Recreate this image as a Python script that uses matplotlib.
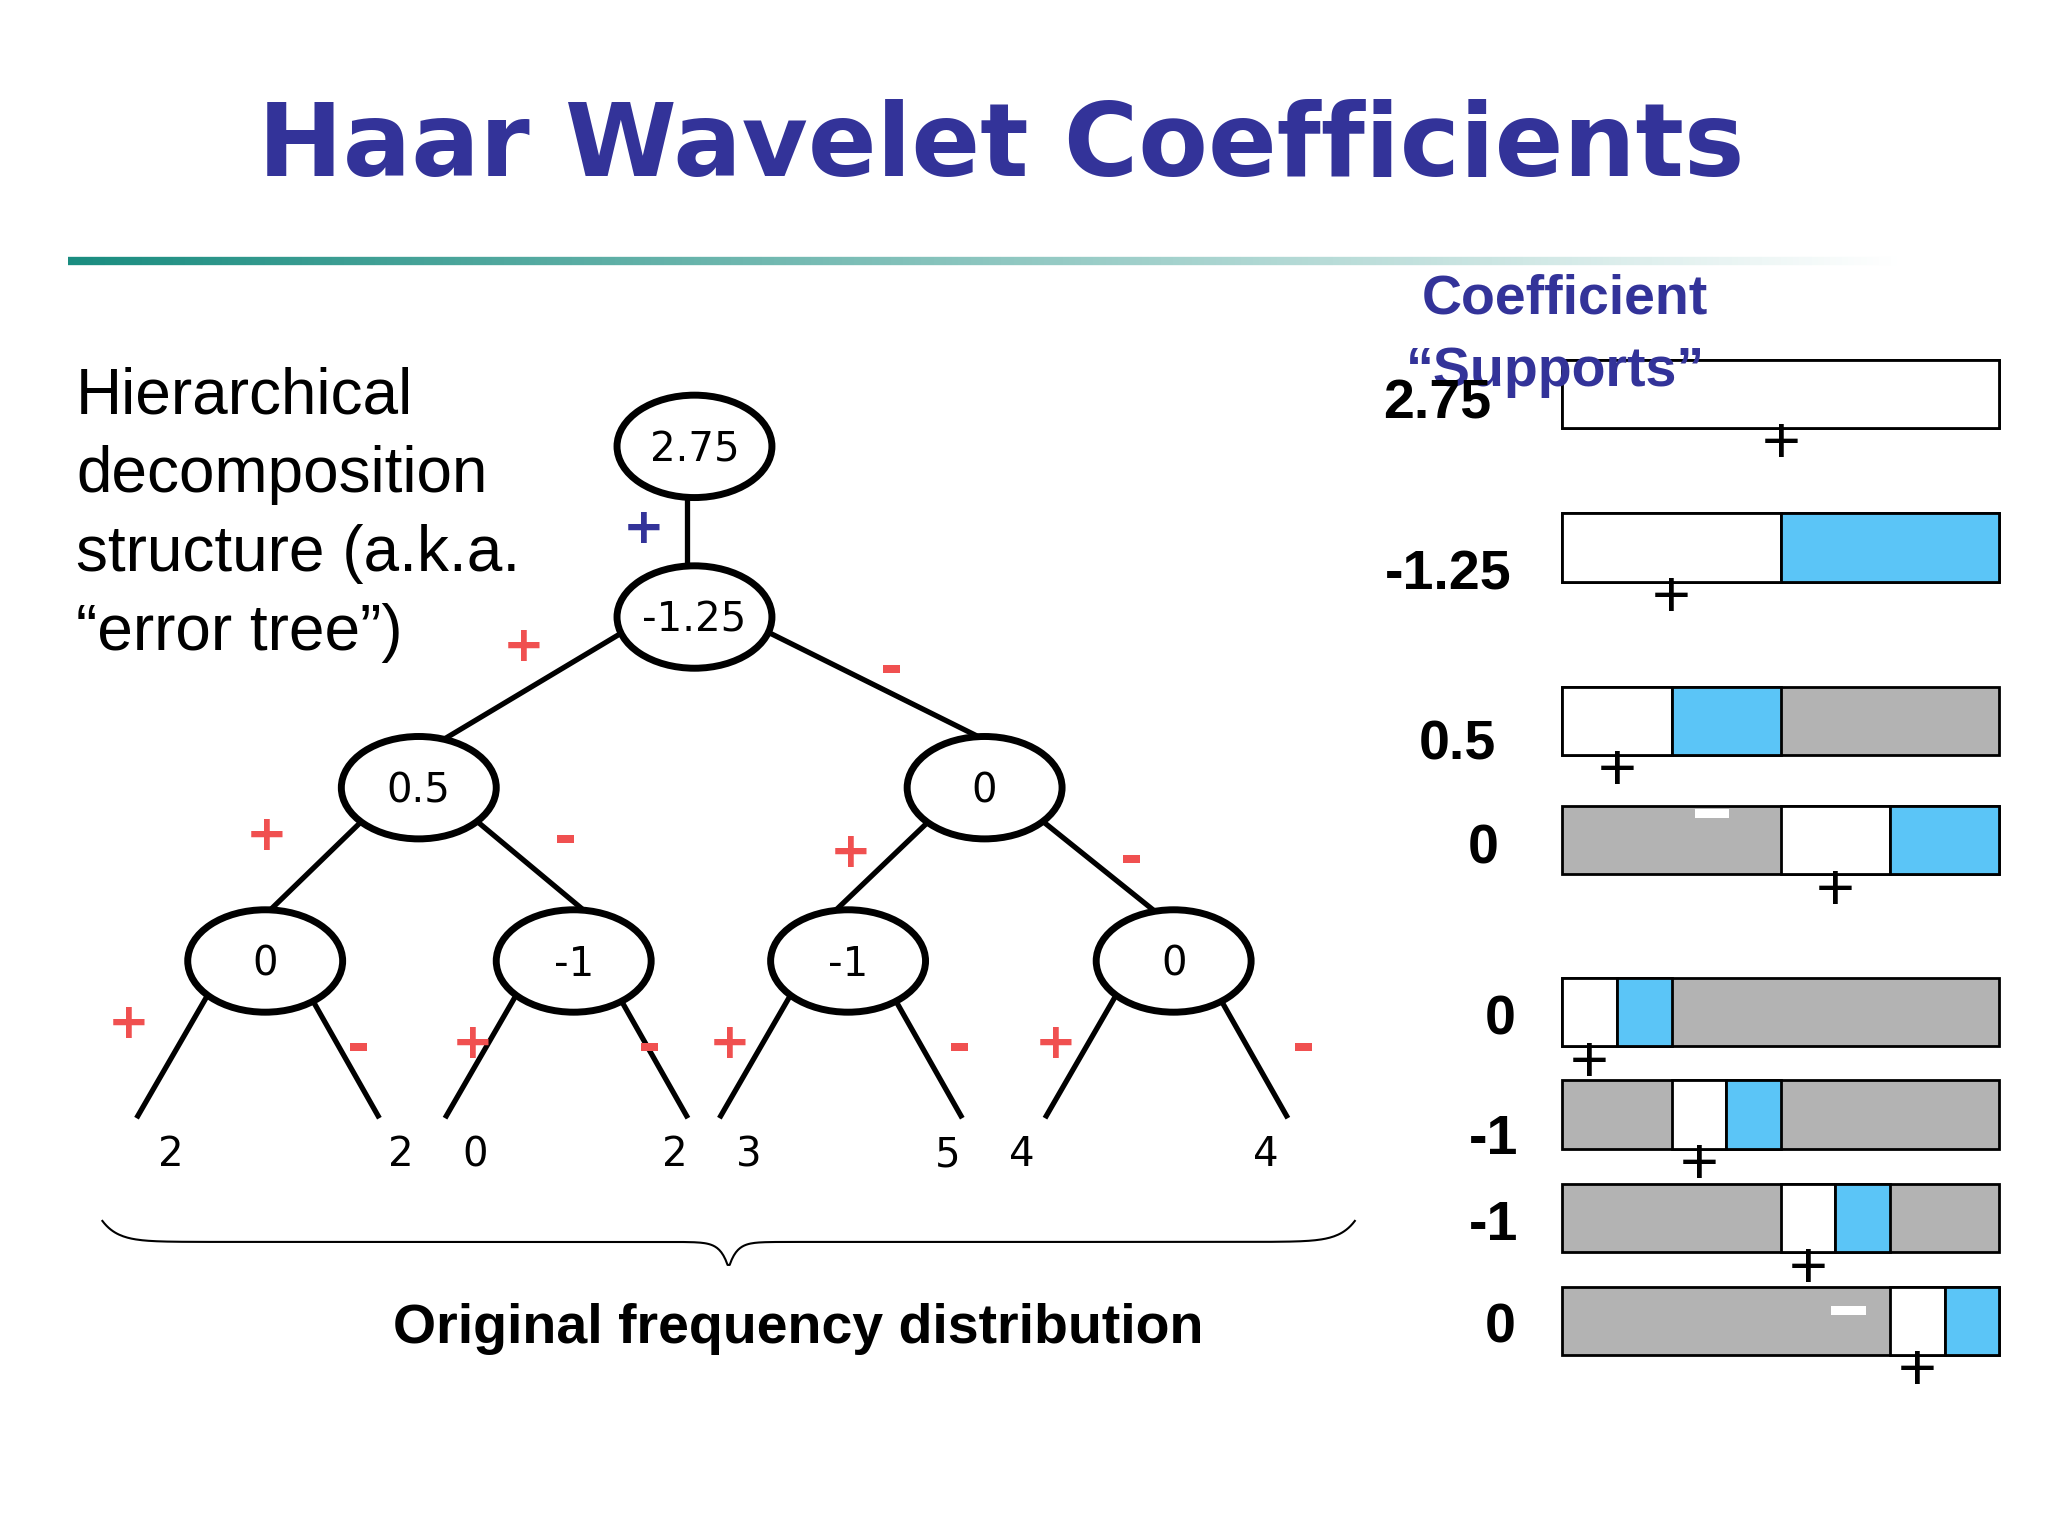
import matplotlib.pyplot as plt
import numpy as np
from matplotlib.patches import Ellipse, Rectangle
from matplotlib.collections import LineCollection

# tree data
node_vals = ['2.75', '-1.25', '0.5', '0', '0', '-1', '-1', '0']
node_x = [529, 529, 319, 750, 202, 437, 646, 894]
node_y = [340, 470, 600, 600, 732, 732, 732, 732]
leaf_vals = ['2', '2', '0', '2', '3', '5', '4', '4']
leaf_x = [130, 305, 362, 514, 570, 722, 778, 964]

# support bars: (start cell, cells of +, cells of -) out of 8
coef_labels = ['2.75', '-1.25', '0.5', '0', '0', '-1', '-1', '0']
coef_lx = [1095, 1103, 1110, 1130, 1143, 1138, 1138, 1143]
coef_ly = [308, 438, 568, 647, 777, 868, 934, 1012]
bar_top = [274, 391, 523, 614, 745, 823, 902, 980]
supports = [(0, 8, 0), (0, 4, 4), (0, 2, 2), (4, 2, 2),
            (0, 1, 1), (2, 1, 1), (4, 1, 1), (6, 1, 1)]

fig = plt.figure(figsize=(20.48, 15.36), dpi=100)
ax = fig.add_axes([0, 0, 1, 1])
ax.set_xlim(0, 1560)
ax.set_ylim(1170, 0)
ax.axis('off')

red = '#f05050'
navy = '#333399'
arial = 'Liberation Sans'

ax.text(763, 113, 'Haar Wavelet Coefficients', ha='center', va='center',
        fontsize=73, fontweight='heavy', color=navy)

# gradient rule under title
xs = np.linspace(52, 1450, 300)
segs = [[(xs[i], 199), (xs[i + 1], 199)] for i in range(len(xs) - 1)]
t = np.linspace(0, 1, len(segs))
cols = [(0.1 + 0.9 * v, 0.55 + 0.45 * v, 0.5 + 0.5 * v) for v in t]
ax.add_collection(LineCollection(segs, colors=cols, linewidths=6))

ax.text(58, 392, 'Hierarchical\ndecomposition\nstructure (a.k.a.\n\u201cerror tree\u201d)',
        ha='left', va='center', fontsize=46, linespacing=1.4, family=arial)

# edges
ew, eh = 118, 78
lw = 3.8
ax.plot([523, 523], [379, 431], color='k', lw=lw)
edges = [(1, 2), (1, 3), (2, 4), (2, 5), (3, 6), (3, 7)]
pts = {(1, 2): ((472, 483), (340, 562)), (1, 3): ((588, 483), (745, 561)),
       (2, 4): ((274, 627), (207, 692)), (2, 5): ((365, 627), (443, 692)),
       (3, 6): ((706, 627), (638, 692)), (3, 7): ((796, 627), (877, 692))}
for e in edges:
    (x0, y0), (x1, y1) = pts[e]
    ax.plot([x0, x1], [y0, y1], color='k', lw=lw)
for i in range(4, 8):
    x = node_x[i]
    ax.plot([x - 45, x - 97], [760, 850], color='k', lw=lw)
    ax.plot([x + 35, x + 86], [760, 850], color='k', lw=lw)

for v, x, y in zip(node_vals, node_x, node_y):
    ax.add_patch(Ellipse((x, y), ew, eh, fc='white', ec='k', lw=5, zorder=3))
    ax.text(x, y + 3, v, ha='center', va='center', fontsize=29, zorder=4)

for v, x in zip(leaf_vals, leaf_x):
    ax.text(x, 880, v, ha='center', va='center', fontsize=29)

# signs
ax.text(490, 403, '+', ha='center', va='center', fontsize=36, color=navy, fontweight='bold')
plus = [(399, 493), (203, 637), (648, 650), (98, 780), (360, 795), (556, 795), (804, 795)]
minus = [(679, 510), (431, 640), (862, 655), (273, 798), (495, 798), (731, 798), (993, 798)]
for x, y in plus:
    ax.text(x, y, '+', ha='center', va='center', fontsize=36, color=red, fontweight='bold')
for x, y in minus:
    ax.text(x, y, '-', ha='center', va='center', fontsize=40, color=red, fontweight='bold')

# brace
bx = np.linspace(78, 1032, 600)
mid = 555
by = []
for x in bx:
    d = min(x - 78, 1032 - x)
    y = 930 + 16 * (1 - np.exp(-d / 12))
    dm = abs(x - mid)
    y += 20 * np.exp(-dm / 6)
    by.append(y)
ax.plot(bx, by, color='k', lw=1.5)
ax.text(608, 1012, 'Original frequency distribution', ha='center', va='center',
        fontsize=40, fontweight='bold', family=arial)

# coefficient supports
ax.text(1192, 228, 'Coefficient', ha='center', va='center', fontsize=40,
        fontweight='bold', color=navy, family=arial)
ax.text(1185, 283, '\u201cSupports\u201d', ha='center', va='center', fontsize=40,
        fontweight='bold', color=navy, family=arial)
x0, x1, bh = 1190, 1523, 52
cw = (x1 - x0) / 8
for lab, lx, ly, top, (s, p, m) in zip(coef_labels, coef_lx, coef_ly, bar_top, supports):
    ax.text(lx, ly, lab, ha='center', va='center', fontsize=40, fontweight='bold',
            family=arial, zorder=5)
    ax.add_patch(Rectangle((x0, top), x1 - x0, bh, fc='#b3b3b3', ec='k', lw=2))
    ax.add_patch(Rectangle((x0 + s * cw, top), p * cw, bh, fc='white', ec='k', lw=2))
    if m:
        ax.add_patch(Rectangle((x0 + (s + p) * cw, top), m * cw, bh, fc='#5bc5f7', ec='k', lw=2))
    ax.text(x0 + (s + p / 2) * cw, top + 66, '+', ha='center', va='center', fontsize=48,
            family=arial)
ax.add_patch(Rectangle((1291, 616), 26, 7, fc='white', ec='none'))
ax.add_patch(Rectangle((1395, 995), 26, 7, fc='white', ec='none'))

fig.savefig('out.png', dpi=100)
